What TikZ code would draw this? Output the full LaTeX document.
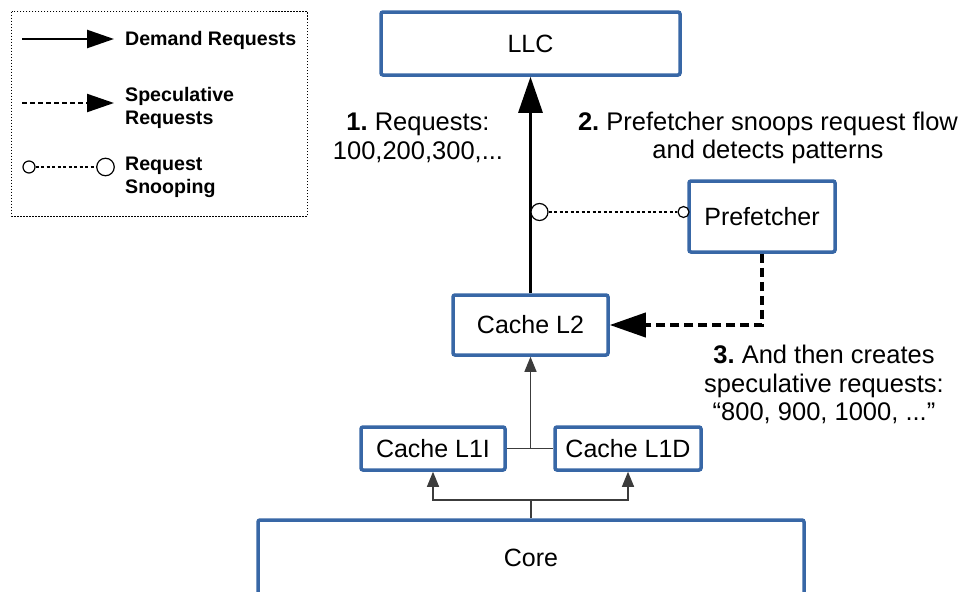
\documentclass[tikz,border=0pt]{standalone}
\usepackage{fontspec}
\setmainfont{Liberation Sans}
\usetikzlibrary{arrows.meta}
\frenchspacing
\definecolor{boxblue}{RGB}{56,103,166}
\definecolor{thinline}{RGB}{60,60,60}
\tikzset{
  unit/.style={draw=boxblue, line width=3.5pt, fill=white, rounded corners=2pt,
    inner sep=0pt, font=\fontsize{25}{29}\selectfont},
  note/.style={align=center, inner sep=0pt, font=\fontsize{25.5}{28.5}\selectfont},
  legtext/.style={anchor=west, align=left, inner sep=0pt,
    font=\fontsize{19.6}{23}\selectfont\bfseries},
  demand/.style={line width=3pt, -{Triangle[length=36pt,width=24pt]}},
  spec/.style={line width=4pt, dash pattern=on 9pt off 5pt,
    -{Triangle[length=36pt,width=24pt]}},
  snoop/.style={line width=1.5pt, dash pattern=on 3pt off 2.5pt},
  ring/.style={circle, draw, line width=1.2pt, fill=white, inner sep=0pt},
  link/.style={line width=1.2pt, draw=thinline},
  linkarrow/.style={link, -{Triangle[length=15pt,width=12pt]}},
}
\begin{document}
\begin{tikzpicture}[x=1pt,y=-1pt]
\useasboundingbox (0,0) rectangle (962,592);
\clip (0,0) rectangle (962,592);

% legend
\draw[line width=1pt, dash pattern=on 1.5pt off 1.5pt] (11.5,11.5) rectangle (307,216);
\coordinate (ld1) at (22,39);  \coordinate (ld2) at (114,39);
\draw[line width=2.5pt, -{Triangle[length=27pt,width=18pt]}] (ld1) -- (ld2);
\node[legtext] (ldt) at (125,40) {Demand Requests};
\coordinate (ls1) at (22,103); \coordinate (ls2) at (114,103);
\draw[line width=2.2pt, dash pattern=on 4.5pt off 3.5pt, -{Triangle[length=27pt,width=18pt]}] (ls1) -- (ls2);
\node[legtext] (lst) at (125,107.5) {Speculative\\Requests};
\node[ring, minimum size=12pt] (lr1) at (29,167) {};
\node[ring, minimum size=17.5pt] (lr2) at (105.5,167) {};
\draw[snoop] (lr1) -- (lr2);
\node[legtext] (lrt) at (125,177) {Request\\Snooping};

% hierarchy boxes
\node[unit, minimum width=299pt, minimum height=63pt] (llc) at (530.5,43.5) {LLC};
\node[unit, minimum width=146pt, minimum height=71pt] (pref) at (762,216.5) {Prefetcher};
\node[unit, minimum width=155pt, minimum height=60pt] (l2) at (530.5,325) {Cache L2};
\node[unit, minimum width=144pt, minimum height=43pt] (l1i) at (433,448.5) {Cache L1I};
\node[unit, minimum width=146pt, minimum height=43pt] (l1d) at (628,448.5) {Cache L1D};
\node[unit, minimum width=546pt, minimum height=76pt] (core) at (531,558) {Core};

% demand path L2 -> LLC
\draw[demand] (l2.north) -- (llc.south);

% snooping tap on the demand path
\node[ring, minimum size=17pt] (tap) at (539.5,212) {};
\node[ring, minimum size=11pt] (ptap) at (683.5,212) {};
\draw[snoop] (tap) -- (ptap);

% speculative requests back into L2
\draw[spec] (pref.south) |- (l2.east);

% L1 -> L2
\coordinate (j1) at (530.5,448.5);
\draw[link] (l1i.east) -- (l1d.west);
\draw[linkarrow] (j1) -- (l2.south);

% core -> L1
\coordinate (j2) at (531,500);
\draw[link] (core.north) -- (j2);
\draw[linkarrow] (j2) -| (l1i.south);
\draw[linkarrow] (j2) -| (l1d.south);

% annotations
\node[note] (n1) at (418,138) {\textbf{1.} Requests:\\100,200,300,...};
\node[note] (n2) at (768,138) {\textbf{2.} Prefetcher snoops request flow\\and detects patterns};
\node[note] (n3) at (824,384.5) {\textbf{3.} And then creates\\speculative requests:\\“800, 900, 1000, ...”};
\end{tikzpicture}
\end{document}
